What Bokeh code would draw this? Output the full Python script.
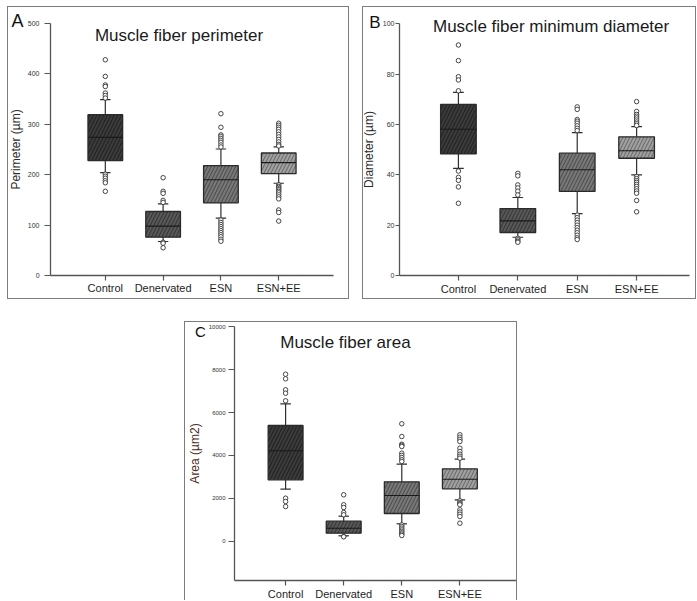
from bokeh.plotting import figure
from bokeh.models import Range1d, FixedTicker, Label, Spacer, LinearAxis
from bokeh.layouts import row, column
from bokeh.embed import file_html
from bokeh.resources import INLINE

FONT = "Liberation Sans"

categories = ["Control", "Denervated", "ESN", "ESN+EE"]
box_fills = ["#3b3b3b", "#585858", "#787878", "#a0a0a0"]
hatch_cols = ["#1a1a1a", "#2c2c2c", "#424242", "#5e5e5e"]

# ---- A: perimeter (um)
per_q1 = [228, 76, 144, 202]
per_med = [274, 98, 190, 224]
per_q3 = [319, 127, 218, 243]
per_lo = [204, 67.5, 114, 183]
per_hi = [349, 142, 251, 255]
per_out = [
    [428, 395, 378, 375, 362, 357, 352, 201, 197, 193, 188, 184, 167],
    [194, 167, 163, 149, 145, 66, 64, 55],
    [321, 294, 279, 276, 272, 268, 264, 259, 255,
     110, 105, 101, 97, 93, 89, 85, 81, 77, 72, 68],
    [302, 298, 294, 290, 285, 280, 275, 270, 265, 260, 257,
     180, 177, 175, 172, 170, 167, 164, 160, 156, 152, 130, 125, 108],
]
per_ticks = [0, 100, 200, 300, 400, 500]

# ---- B: minimum diameter (um)
dia_q1 = [48.3, 17.1, 33.4, 46.6]
dia_med = [58.1, 21.7, 42.0, 49.6]
dia_q3 = [68.0, 26.6, 48.6, 55.1]
dia_lo = [42.6, 15.2, 24.6, 40.0]
dia_hi = [72.8, 31.0, 56.8, 59.2]
dia_out = [
    [91.6, 85.4, 79.0, 77.7, 73.4, 41.5, 39.0, 37.8, 35.2, 28.7],
    [40.6, 39.6, 36.0, 34.8, 33.5, 32.0, 14.8, 14.2, 13.6, 13.2],
    [67.0, 66.0, 62.0, 61.3, 60.5, 59.5, 58.5, 57.6,
     24.0, 23.0, 22.0, 21.0, 20.0, 19.0, 18.0, 17.0, 16.0, 15.0, 14.3],
    [69.1, 65.2, 64.0, 63.3, 62.6, 61.8, 61.0, 60.3, 59.6,
     39.3, 38.5, 37.7, 37.0, 36.2, 35.4, 34.5, 33.6, 32.7, 29.8, 25.3],
]
dia_ticks = [0, 20, 40, 60, 80, 100]

# ---- C: area (um2)
area_q1 = [2860, 365, 1285, 2439]
area_med = [4215, 598, 2126, 2888]
area_q3 = [5397, 925, 2766, 3374]
area_lo = [2421, 243, 804, 1925]
area_hi = [6411, 1159, 3590, 3822]
area_out = [
    [7794, 7579, 7065, 6907, 6551, 2000, 1846, 1612],
    [2159, 1692, 1565, 1332, 1224, 215, 196],
    [5477, 4883, 4523, 4470, 4416, 4103, 4000, 3900, 3800, 3715,
     757, 680, 600, 520, 450, 380, 320, 257],
    [4963, 4850, 4750, 4650, 4336, 4182, 4056, 3960, 3869,
     1878, 1800, 1740, 1692, 1458, 1350, 1250, 1145, 832],
]
area_ticks = [0, 2000, 4000, 6000, 8000, 10000]


def make_panel(width, height, xr, yr, yaxis_at, xaxis_at, xbounds, ybounds,
               yticks, ylabel, ylabel_color, tick_out, label_standoff,
               ylabel_standoff, tick_font,
               q1, med, q3, lo, hi, outs,
               title, title_xy, letter, letter_xy, letter_size, styles):
    p = figure(width=width, height=height, output_backend="svg",
               toolbar_location=None, x_range=Range1d(*xr),
               y_range=Range1d(*yr), x_axis_type=None, y_axis_type=None,
               min_border=0)
    p.outline_line_color = None
    p.background_fill_color = "white"
    p.border_fill_color = "white"
    p.styles = styles

    xs = list(range(1, len(categories) + 1))
    bw = 0.6
    cw = 0.09
    wc = "#2f2f2f"
    p.segment(x0=xs, y0=q3, x1=xs, y1=hi, line_color=wc, line_width=1.2)
    p.segment(x0=xs, y0=lo, x1=xs, y1=q1, line_color=wc, line_width=1.2)
    p.segment(x0=[x - cw for x in xs], y0=hi, x1=[x + cw for x in xs], y1=hi,
              line_color=wc, line_width=1.2)
    p.segment(x0=[x - cw for x in xs], y0=lo, x1=[x + cw for x in xs], y1=lo,
              line_color=wc, line_width=1.2)
    p.vbar(x=xs, bottom=q1, top=q3, width=bw, fill_color=box_fills,
           line_color="#2a2a2a", line_width=1.3, hatch_pattern="/",
           hatch_color=hatch_cols, hatch_scale=7, hatch_weight=0.9)
    p.segment(x0=[x - bw / 2 for x in xs], y0=med, x1=[x + bw / 2 for x in xs],
              y1=med, line_color="#1a1a1a", line_width=1.1)
    ox, oy = [], []
    for x, vals in zip(xs, outs):
        ox += [x] * len(vals)
        oy += vals
    p.scatter(ox, oy, marker="circle", size=4.5, fill_color="white",
              line_color="#333333", line_width=0.9)

    xaxis = LinearAxis(fixed_location=xaxis_at, bounds=xbounds,
                       ticker=FixedTicker(ticks=xs),
                       major_label_overrides={x: c for x, c in zip(xs, categories)})
    yaxis = LinearAxis(fixed_location=yaxis_at, bounds=ybounds,
                       ticker=FixedTicker(ticks=yticks))
    for ax in (xaxis, yaxis):
        ax.axis_line_color = "#555555"
        ax.axis_line_width = 1.3
        ax.major_tick_line_color = "#555555"
        ax.major_tick_line_width = 1.2
        ax.major_tick_in = 0
        ax.minor_tick_line_color = None
    xaxis.major_tick_out = 5
    yaxis.major_tick_out = tick_out
    xaxis.major_label_text_font = FONT
    xaxis.major_label_text_font_size = "11px"
    xaxis.major_label_text_color = "#1e1e1e"
    xaxis.major_label_standoff = 2
    yaxis.major_label_text_font = FONT
    yaxis.major_label_text_font_size = tick_font
    yaxis.major_label_text_color = "#333333"
    yaxis.major_label_standoff = label_standoff
    yaxis.axis_label = ylabel
    yaxis.axis_label_text_font = FONT
    yaxis.axis_label_text_font_style = "normal"
    yaxis.axis_label_text_font_size = "12px"
    yaxis.axis_label_text_color = ylabel_color
    yaxis.axis_label_standoff = ylabel_standoff
    p.add_layout(xaxis, "below")
    p.add_layout(yaxis, "left")

    p.add_layout(Label(x=title_xy[0], y=title_xy[1], text=title,
                       text_font=FONT, text_font_size="17px",
                       text_align="center", text_baseline="middle",
                       text_color="#1a1a1a"))
    p.add_layout(Label(x=letter_xy[0], y=letter_xy[1], text=letter,
                       text_font=FONT, text_font_size=letter_size,
                       text_align="center", text_baseline="middle",
                       text_color="#111111"))
    return p


frame_style = {"border": "1.5px solid #7c7c7c"}
frame_style_c = {"border": "1.5px solid #7c7c7c", "border-bottom": "none"}

pA = make_panel(342, 293, (-0.675, 5.242), (-49.6, 531.7), 0.052, 0,
                (0.052, 4.948), (0, 500), per_ticks,
                "Perimeter (µm)", "#2b2b2b", 6, 5, 2, "7px",
                per_q1, per_med, per_q3, per_lo, per_hi, per_out,
                "Muscle fiber perimeter", (2.275, 477),
                "A", (-0.519, 504), "18px", frame_style)

pB = make_panel(334, 293, (-0.598, 5.025), (-9.93, 106.5), 0.008, 0,
                (0.008, 4.89), (0, 100), dia_ticks,
                "Diameter (µm)", "#2b2b2b", 4, 1, 4, "7px",
                dia_q1, dia_med, dia_q3, dia_lo, dia_hi, dia_out,
                "Muscle fiber minimum diameter", (2.56, 98.9),
                "B", (-0.404, 100.5), "17px", frame_style)

pC = make_panel(333, 279, (-0.723, 5.009), (-2827, 10210), 0.12, -1846,
                (0.12, 4.99), (-1846, 10000), area_ticks,
                "Area (µm2)", "#4a2e1e", 6, 3, 4, "6px",
                area_q1, area_med, area_q3, area_lo, area_hi, area_out,
                "Muscle fiber area", (2.03, 9276),
                "C", (-0.467, 9790), "15px", frame_style_c)

layout = column(
    Spacer(height=6),
    row(Spacer(width=7), pA, Spacer(width=13), pB),
    Spacer(height=22),
    row(Spacer(width=184), pC),
)

open("out.html", "w").write(file_html(layout, INLINE))
